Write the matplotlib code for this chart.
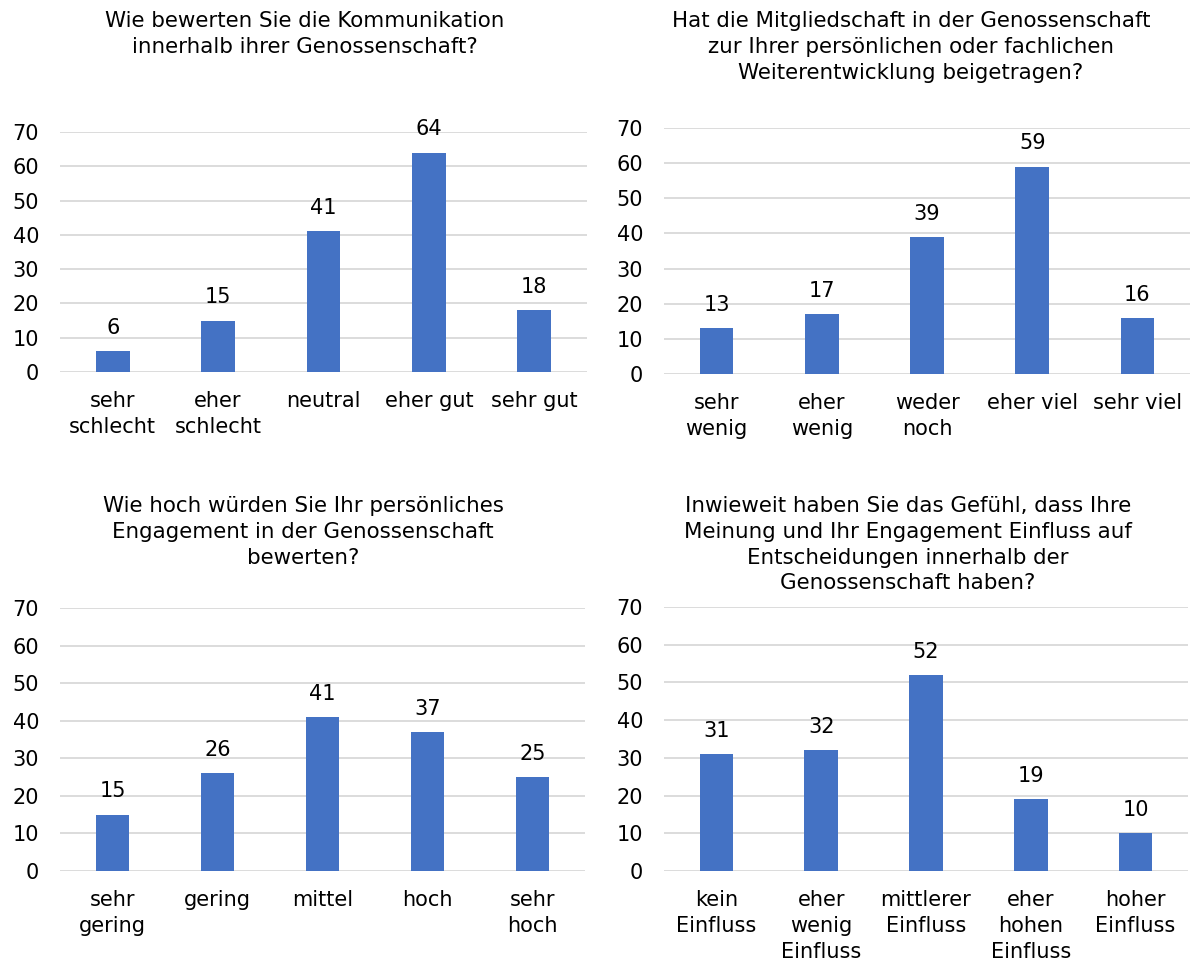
import matplotlib.pyplot as plt

plt.rcParams['font.family'] = ['DejaVu Sans']

# Daten der vier Umfragefragen
titel_1 = "Wie bewerten Sie die Kommunikation\ninnerhalb ihrer Genossenschaft?"
kat_1 = ["sehr\nschlecht", "eher\nschlecht", "neutral", "eher gut", "sehr gut"]
werte_1 = [6, 15, 41, 64, 18]

titel_2 = ("Hat die Mitgliedschaft in der Genossenschaft\nzur Ihrer persönlichen oder fachlichen\n"
           "Weiterentwicklung beigetragen?")
kat_2 = ["sehr\nwenig", "eher\nwenig", "weder\nnoch", "eher viel", "sehr viel"]
werte_2 = [13, 17, 39, 59, 16]

titel_3 = "Wie hoch würden Sie Ihr persönliches\nEngagement in der Genossenschaft\nbewerten?"
kat_3 = ["sehr\ngering", "gering", "mittel", "hoch", "sehr\nhoch"]
werte_3 = [15, 26, 41, 37, 25]

titel_4 = ("Inwieweit haben Sie das Gefühl, dass Ihre\nMeinung und Ihr Engagement Einfluss auf\n"
           "Entscheidungen innerhalb der\nGenossenschaft haben?")
kat_4 = ["kein\nEinfluss", "eher\nwenig\nEinfluss", "mittlerer\nEinfluss", "eher\nhohen\nEinfluss", "hoher\nEinfluss"]
werte_4 = [31, 32, 52, 19, 10]

y_ticks = [0, 10, 20, 30, 40, 50, 60, 70]

W, H = 1194, 961
fig = plt.figure(figsize=(W / 100, H / 100), dpi=100)

fs = 15
fs_titel = 15.4
blau = "#4472C4"
grau = "#D9D9D9"

# (links, rechts, y0, y70) in Pixeln, Titel-Position (x, y oben)
panels = [
    (titel_1, kat_1, werte_1, (60, 587, 372, 132), (305, 11)),
    (titel_2, kat_2, werte_2, (664, 1190, 374, 128), (911, 11)),
    (titel_3, kat_3, werte_3, (60, 585, 871, 608), (303, 496)),
    (titel_4, kat_4, werte_4, (664, 1188, 871, 607), (908, 496)),
]

for titel, kat, werte, (l, r, y0, y70), (tx, ty) in panels:
    ax = fig.add_axes([l / W, 1 - y0 / H, (r - l) / W, (y0 - y70) / H])
    x = range(len(kat))
    bars = ax.bar(x, werte, width=0.32, color=blau, zorder=3)
    for b, v in zip(bars, werte):
        ax.annotate(str(v), (b.get_x() + b.get_width() / 2, v), xytext=(0, 9.5),
                    textcoords="offset points", ha="center", va="bottom", fontsize=fs)
    ax.set_xlim(-0.5, len(kat) - 0.5)
    ax.set_ylim(0, 70)
    ax.set_yticks(y_ticks)
    ax.set_xticks(list(x))
    ax.set_xticklabels(kat, fontsize=fs, linespacing=1.37)
    ax.tick_params(axis="y", length=0, pad=15, labelsize=fs)
    ax.tick_params(axis="x", length=0, pad=14)
    ax.grid(axis="y", color=grau, linewidth=1.3, zorder=0)
    for s in ax.spines.values():
        s.set_visible(False)
    fig.text(tx / W, 1 - ty / H, titel, ha="center", va="top", fontsize=fs_titel,
             linespacing=1.36, multialignment="center")

fig.savefig("out.png", dpi=100)
